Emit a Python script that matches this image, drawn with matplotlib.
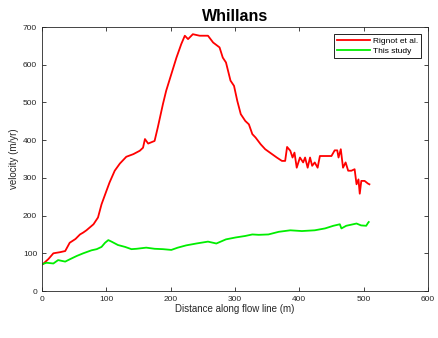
import matplotlib
matplotlib.use("Agg")
import matplotlib.pyplot as plt

plt.rcParams["font.family"] = ["Liberation Sans", "DejaVu Sans"]

# Rignot et al. velocity along the flow line
rignot_x = [1, 10, 17.6, 28, 36, 43, 52, 59, 64, 69, 80, 87, 92.5, 100, 105, 113, 121, 131, 142, 152,
            157, 160, 165, 175, 180, 188, 193, 201, 209, 216.5, 222, 227, 234.5, 245, 258,
            266, 276, 281, 286, 293, 298.5, 303.6, 309, 316, 321.6, 327, 332, 340, 347,
            357.6, 365, 373, 378, 381, 386, 389.5, 392.5, 396, 401, 406, 409, 413, 416.7,
            420, 424, 428.5, 432, 440, 450, 455, 459, 461, 464.5, 468, 472, 476, 481, 486,
            489, 492, 494, 496.4, 501.5, 506.7, 509]
rignot_v = [71, 85, 100, 103, 106, 128, 138, 150, 155, 161, 177, 195, 230, 265, 288, 319, 338, 356, 363, 372,
            380, 403, 391, 398, 434, 496, 531, 575, 619, 655, 677, 668, 681, 677, 677,
            659, 646, 619, 606, 558, 544, 504, 469, 451, 442, 416, 407, 389, 376,
            363, 354, 345, 345, 382, 372, 354, 367, 327, 354, 341, 354, 327, 354,
            332, 341, 327, 358, 358, 358, 373, 373, 354, 376, 327, 341, 319, 319, 323,
            283, 296, 258, 292, 292, 285, 283]

# This study
study_x = [0, 7, 17.6, 25, 36, 43, 54, 64, 77, 85, 92.5, 98, 103, 108, 118, 129, 139, 147,
           162, 175, 188, 201, 211, 224, 240, 258, 271, 286, 301, 316, 327, 337, 352, 368,
           386, 404, 424, 440, 453, 463, 465.5, 473, 489, 496, 504, 507, 508]
study_v = [71, 75, 73, 82, 78, 84, 93, 100, 108, 111, 117, 128, 135, 131, 122, 117, 111, 112,
           115, 112, 111, 109, 115, 121, 126, 131, 126, 137, 142, 146, 150, 149, 150, 157,
           161, 159, 161, 166, 173, 177, 166, 173, 179, 174, 173, 181, 183]

fig = plt.figure(figsize=(4.38, 3.38), dpi=100)
ax = fig.add_axes([0.096, 0.139, 0.881, 0.781])

ax.plot(rignot_x, rignot_v, color="#ff0000", lw=1.3, label="Rignot et al.")
ax.plot(study_x, study_v, color="#00ee00", lw=1.3, label="This study")

ax.set_xlim(0, 600)
ax.set_ylim(0, 700)
ax.set_xticks(range(0, 601, 100))
ax.set_yticks(range(0, 701, 100))
ax.tick_params(direction="in", top=True, right=True, labelsize=6, length=3, width=0.6,
               colors="#262626")
for s in ax.spines.values():
    s.set_linewidth(0.6)
    s.set_color("#262626")

ax.set_xlabel("Distance along flow line (m)", fontsize=7, labelpad=1, color="#262626")
ax.set_ylabel("velocity (m/yr)", fontsize=7, labelpad=3, color="#262626")
ax.set_title("Whillans", fontsize=11.5, fontweight="bold", pad=4)

leg = ax.legend(loc="upper right", fontsize=6, fancybox=False, framealpha=1,
                edgecolor="black", handlelength=4.0, borderaxespad=0.8,
                handletextpad=0.3, labelspacing=0.25)
leg.get_frame().set_linewidth(0.6)

fig.savefig("out.png", dpi=100)
